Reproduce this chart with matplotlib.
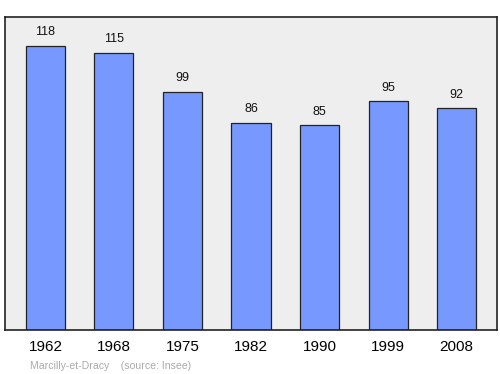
import matplotlib.pyplot as plt

plt.rcParams["font.family"] = ["Liberation Sans", "DejaVu Sans"]

years = ["1962", "1968", "1975", "1982", "1990", "1999", "2008"]
population = [118, 115, 99, 86, 85, 95, 92]

fig = plt.figure(figsize=(5, 3.74), dpi=100)
ax = fig.add_axes([0.01, 0.1176, 0.984, 0.837])
ax.set_facecolor("#eeeeee")

x = range(len(years))
ax.bar(x, population, width=0.57, color="#7799ff", edgecolor="#222222", linewidth=0.9, zorder=2)
for i, v in zip(x, population):
    ax.annotate(str(v), (i, v), xytext=(0, 5.5), textcoords="offset points",
                ha="center", va="bottom", fontsize=9, color="#111111")

ax.set_xlim(-0.59, 6.59)
ax.set_ylim(0, 130)
ax.set_xticks(list(x))
ax.set_xticklabels(years, fontsize=11)
ax.tick_params(axis="x", length=0, pad=7)
ax.set_yticks([])
for s in ax.spines.values():
    s.set_color("#222222")
    s.set_linewidth(1.2)

fig.text(0.06, 0.014, "Marcilly-et-Dracy    (source: Insee)", fontsize=7.6, color="#aaaaaa")

fig.savefig("out.png", dpi=100)
